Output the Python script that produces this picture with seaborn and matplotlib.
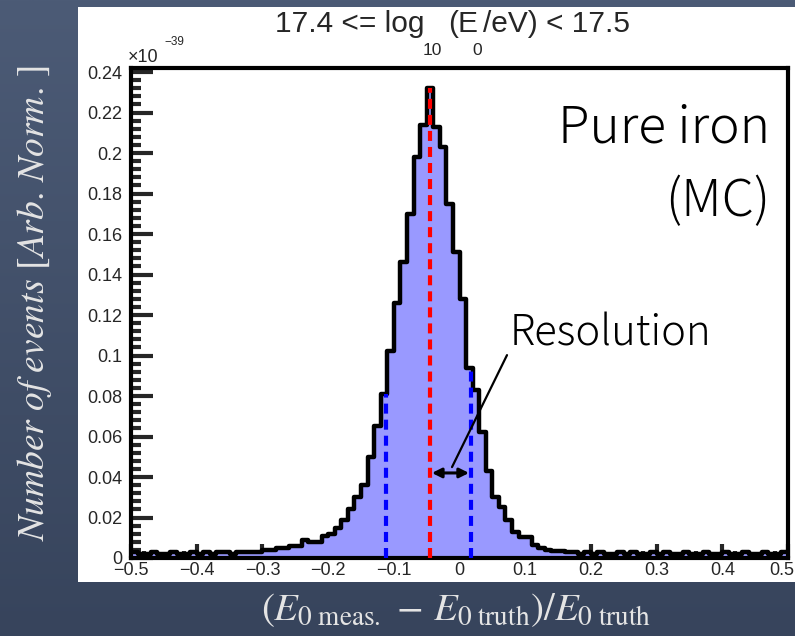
import numpy as np
import pandas as pd
import matplotlib
matplotlib.use("Agg")
import matplotlib.pyplot as plt
import seaborn as sns
from matplotlib.patches import Rectangle
from matplotlib.ticker import FixedLocator, FixedFormatter, MultipleLocator
from matplotlib.transforms import ScaledTranslation

# ---------------- data ----------------
n_bins = 100
x_range = (-0.5, 0.5)
bin_edges = np.round(np.linspace(x_range[0], x_range[1], n_bins + 1), 3)
tail_left = [0.003, 0.002, 0.002, 0.003, 0.002, 0.002, 0.003, 0.002, 0.002, 0.003,
             0.002, 0.003, 0.002, 0.003, 0.003, 0.002, 0.003, 0.003, 0.003, 0.003]
core = [0.004, 0.004, 0.005, 0.005, 0.006, 0.006, 0.009, 0.008, 0.008, 0.011,
        0.012, 0.015, 0.019, 0.024, 0.030, 0.036, 0.050, 0.065, 0.081, 0.102,
        0.126, 0.146, 0.170, 0.198, 0.214, 0.232, 0.213, 0.203, 0.175, 0.151,
        0.128, 0.094, 0.083, 0.062, 0.043, 0.030, 0.025, 0.019, 0.013, 0.0105,
        0.0105, 0.0064, 0.0048, 0.004, 0.0035, 0.0035]
tail_right = [0.003, 0.003, 0.002, 0.003, 0.002, 0.003, 0.002, 0.002, 0.003, 0.002,
              0.003, 0.002, 0.002, 0.003, 0.002, 0.003, 0.002, 0.002, 0.003, 0.002,
              0.002, 0.003, 0.002, 0.002, 0.003, 0.002, 0.002, 0.003, 0.002, 0.002,
              0.003, 0.002, 0.002, 0.003]
counts = tail_left + core + tail_right

mean_pos = -0.045
res_low = -0.112
res_high = 0.0175

xtick_vals = [-0.5, -0.4, -0.3, -0.2, -0.1, 0, 0.1, 0.2, 0.3, 0.4, 0.5]
xtick_labels = ["\u22120.5", "\u22120.4", "\u22120.3", "\u22120.2", "\u22120.1", "0",
                "0.1", "0.2", "0.3", "0.4", "0.5"]
ytick_vals = [0, 0.02, 0.04, 0.06, 0.08, 0.1, 0.12, 0.14, 0.16, 0.18, 0.2, 0.22, 0.24]
ytick_labels = ["0", "0.02", "0.04", "0.06", "0.08", "0.1", "0.12", "0.14", "0.16",
                "0.18", "0.2", "0.22", "0.24"]

centers = (bin_edges[:-1] + bin_edges[1:]) / 2
df = pd.DataFrame({"x": centers, "w": counts})

# ---------------- style ----------------
sns.set_style("ticks")
plt.rcParams["font.family"] = ["Liberation Sans", "DejaVu Sans"]
plt.rcParams["mathtext.fontset"] = "stix"

W, H = 795, 636
fig = plt.figure(figsize=(W / 100, H / 100), dpi=100)

# background gradient
bg = fig.add_axes([0, 0, 1, 1], zorder=-10)
top = np.array([76, 91, 118]) / 255
bot = np.array([55, 68, 92]) / 255
t = np.linspace(0, 1, 256)[:, None, None]
grad = top * (1 - t) + bot * t
grad = np.repeat(grad, 2, axis=1)
bg.imshow(grad, aspect="auto", extent=[0, 1, 0, 1])
bg.set_axis_off()

# white panel
fig.patches.append(Rectangle((78 / W, 1 - 582 / H), (W - 78) / W, (582 - 7) / H,
                             transform=fig.transFigure, facecolor="white",
                             edgecolor="none", zorder=-5))

def fx(px):
    return px / W

def fy(py):
    return 1 - py / H

ax = fig.add_axes([fx(131), fy(558), fx(788) - fx(131), fy(68) - fy(558)])
ax.set_facecolor("none")

fill_color = "#9999ff"
sns.histplot(data=df, x="x", weights="w", bins=n_bins, binrange=x_range, element="step",
             fill=True, color=fill_color, alpha=1, linewidth=0, ax=ax)
sns.histplot(data=df, x="x", weights="w", bins=n_bins, binrange=x_range, element="step",
             fill=False, color="black", linewidth=3.2, ax=ax)

counts_arr = np.array(counts)
def height_at(x):
    i = np.searchsorted(bin_edges, x, side="right") - 1
    return counts_arr[i]

dash = (0, (2.4, 1.45))
ax.plot([mean_pos, mean_pos], [0, height_at(mean_pos)], color="#ff0000", lw=3,
        ls=dash, zorder=5)
for xv in (res_low, res_high):
    ax.plot([xv, xv], [0, height_at(xv)], color="#0000ff", lw=3,
            ls=dash, zorder=5)

ax.annotate("", xy=(mean_pos + 0.003, 0.042), xytext=(res_high - 0.003, 0.042),
            arrowprops=dict(arrowstyle="<|-|>", color="black", lw=2.2,
                            mutation_scale=14, shrinkA=0, shrinkB=0), zorder=6)
ax.plot([-0.0114, 0.0723], [0.0449, 0.1002], color="black", lw=1.6, zorder=6)

jp = ["Noto Sans CJK JP", "DejaVu Sans"]
ax.text(0.077, 0.105, "Resolution", ha="left", va="baseline", fontsize=30,
        family=jp, fontweight="light", color="black")
ax.text(0.4726, 0.205, "Pure iron", ha="right", va="baseline", fontsize=37,
        family=jp, fontweight="light", color="black")
ax.text(0.4726, 0.169, "(MC)", ha="right", va="baseline", fontsize=37,
        family=jp, fontweight="light", color="black")

ax.set_xlim(*x_range)
ax.set_ylim(0, 0.242)
ax.set_xlabel("")
ax.set_ylabel("")

ax.xaxis.set_major_locator(FixedLocator(xtick_vals))
ax.xaxis.set_major_formatter(FixedFormatter(xtick_labels))
ax.xaxis.set_minor_locator(MultipleLocator(0.02))
ax.yaxis.set_major_locator(FixedLocator(ytick_vals))
ax.yaxis.set_major_formatter(FixedFormatter(ytick_labels))
ax.yaxis.set_minor_locator(MultipleLocator(0.004))

ax.tick_params(axis="x", which="major", direction="in", length=10, width=3,
               labelsize=13, pad=3, top=False)
ax.tick_params(axis="x", which="minor", direction="in", length=5, width=3, top=False)
ax.tick_params(axis="y", which="major", direction="in", length=16, width=3,
               labelsize=13, pad=6, right=False)
ax.tick_params(axis="y", which="minor", direction="in", length=7.5, width=3, right=False)
for s in ax.spines.values():
    s.set_visible(True)
    s.set_linewidth(3)
    s.set_color("black")

# keep the last x tick label inside the panel
fig.canvas.draw()
last = ax.get_xticklabels()[-1]
last.set_transform(last.get_transform() + ScaledTranslation(-6 / 100, 0, fig.dpi_scale_trans))

# title with ROOT-like detached subscripts
fig.text(fx(275), fy(32), "17.4 <= log", fontsize=21.5, ha="left", va="baseline")
fig.text(fx(448), fy(32), "(E", fontsize=21.5, ha="left", va="baseline")
fig.text(fx(483), fy(32), "/eV) < 17.5", fontsize=21.5, ha="left", va="baseline")
fig.text(fx(423), fy(55), "10", fontsize=12.5, ha="left", va="baseline")
fig.text(fx(472), fy(55), "0", fontsize=12.5, ha="left", va="baseline")

# exponent
fig.text(fx(128), fy(62), "\u00d710", fontsize=13, ha="left", va="baseline")
fig.text(fx(164), fy(45), "\u221239", fontsize=8.5, ha="left", va="baseline")

# axis labels
fig.text(fx(35), fy(303), r"$Number\ of\ events\ [Arb.\,Norm.\,]$", rotation=90,
         ha="center", va="center", fontsize=27, color="#e4e4e4")
fig.text(fx(456), fy(610),
         r"$(E_{0\ \mathrm{meas.}}\,-\,E_{0\ \mathrm{truth}})/E_{0\ \mathrm{truth}}$",
         ha="center", va="center", fontsize=28, color="#e4e4e4")

fig.savefig("out.png", dpi=100)
